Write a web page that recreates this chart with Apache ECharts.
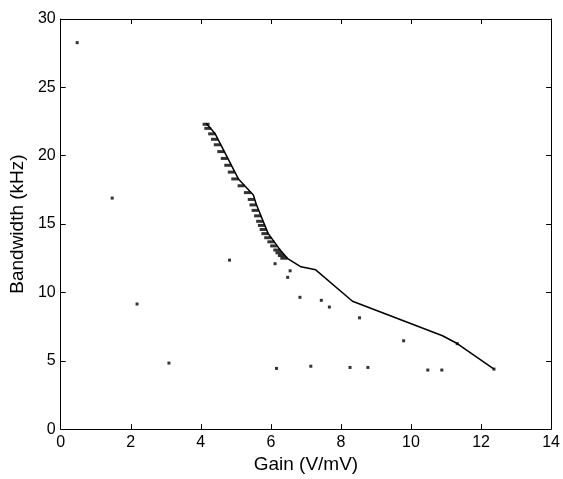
<!DOCTYPE html>
<html>
<head>
<meta charset="utf-8">
<script src="https://cdn.jsdelivr.net/npm/echarts@6/dist/echarts.min.js"></script>
<style>
html,body{margin:0;padding:0;background:#fff;}
#chart{width:563px;height:479px;}
</style>
</head>
<body>
<div id="chart"></div>
<script>
// Pareto frontier line
var frontierGain = [4.15, 4.40, 5.08, 5.50, 5.58, 5.92, 6.29, 6.49, 6.86, 7.28, 8.33, 10.90, 11.32, 12.37];
var frontierBw   = [22.37, 21.65, 18.27, 17.12, 16.47, 14.32, 13.02, 12.45, 11.87, 11.65, 9.35, 6.83, 6.26, 4.39];

// Dense dash markers along the frontier
var dashGain = [4.15, 4.20, 4.31, 4.39, 4.47, 4.57, 4.67, 4.77, 4.87, 4.97, 5.15, 5.33, 5.44, 5.49, 5.55, 5.62, 5.68, 5.73, 5.78, 5.83, 5.91, 6.00, 6.08, 6.17, 6.23, 6.30, 6.37];
var dashBw   = [22.3, 22.0, 21.6, 21.2, 20.8, 20.3, 19.8, 19.3, 18.8, 18.3, 17.8, 17.3, 16.8, 16.4, 16.0, 15.6, 15.2, 14.9, 14.6, 14.3, 14.0, 13.7, 13.4, 13.1, 12.9, 12.7, 12.5];

// Individual design points
var dotGain = [0.47, 1.47, 2.18, 3.09, 4.82, 6.12, 6.55, 6.48, 6.83, 7.44, 7.67, 8.53, 9.79, 11.32, 12.37, 6.16, 7.14, 8.26, 8.77, 10.48, 10.88];
var dotBw   = [28.27, 16.9, 9.15, 4.83, 12.36, 12.1, 11.58, 11.1, 9.64, 9.42, 8.93, 8.14, 6.46, 6.25, 4.39, 4.44, 4.60, 4.51, 4.51, 4.32, 4.32];

// Axis ticks
var xTicks = {min: 0, max: 14, interval: 2};
var yTicks = {min: 0, max: 30, interval: 5};
var xLabel = 'Gain (V/mV)';
var yLabel = 'Bandwidth (kHz)';

function pairs(xs, ys) { return xs.map(function (x, i) { return [x, ys[i]]; }); }

var FONT = 'Liberation Sans, Arial, sans-serif';
var lineStyle = {color: '#000', width: 1};
function axisBase(t, pos, showLabel) {
  return {
    type: 'value', min: t.min, max: t.max, interval: t.interval, position: pos,
    axisLine: {show: true, onZero: false, lineStyle: lineStyle},
    axisTick: {show: true, inside: true, length: 5, lineStyle: lineStyle},
    axisLabel: {show: showLabel, color: '#000', fontSize: 16, fontFamily: FONT, margin: 5},
    splitLine: {show: false}
  };
}

var xb = axisBase(xTicks, 'bottom', true);
xb.name = xLabel; xb.nameLocation = 'middle'; xb.nameGap = 24;
xb.nameTextStyle = {color: '#000', fontSize: 19, fontFamily: FONT};
var xt = axisBase(xTicks, 'top', false);
var yl = axisBase(yTicks, 'left', true);
yl.name = yLabel; yl.nameLocation = 'middle'; yl.nameGap = 24;
yl.nameTextStyle = {color: '#000', fontSize: 19, fontFamily: FONT};
var yr = axisBase(yTicks, 'right', false);

var chart = echarts.init(document.getElementById('chart'), null, {renderer: 'canvas'});
chart.setOption({
  animation: false,
  backgroundColor: '#fff',
  grid: {left: 57, right: 10, top: 19, bottom: 43, containLabel: false},
  xAxis: [xb, xt],
  yAxis: [yl, yr],
  series: [
    {
      type: 'line', data: pairs(frontierGain, frontierBw),
      showSymbol: false, symbol: 'none',
      lineStyle: {color: '#000', width: 1.5}, z: 3
    },
    {
      type: 'scatter', data: pairs(dashGain, dashBw),
      symbol: 'rect', symbolSize: [7, 3],
      itemStyle: {color: '#000'}, z: 4
    },
    {
      type: 'scatter', data: pairs(dotGain, dotBw),
      symbol: 'rect', symbolSize: 3,
      itemStyle: {color: '#000'}, z: 4
    }
  ]
});
</script>
</body>
</html>
